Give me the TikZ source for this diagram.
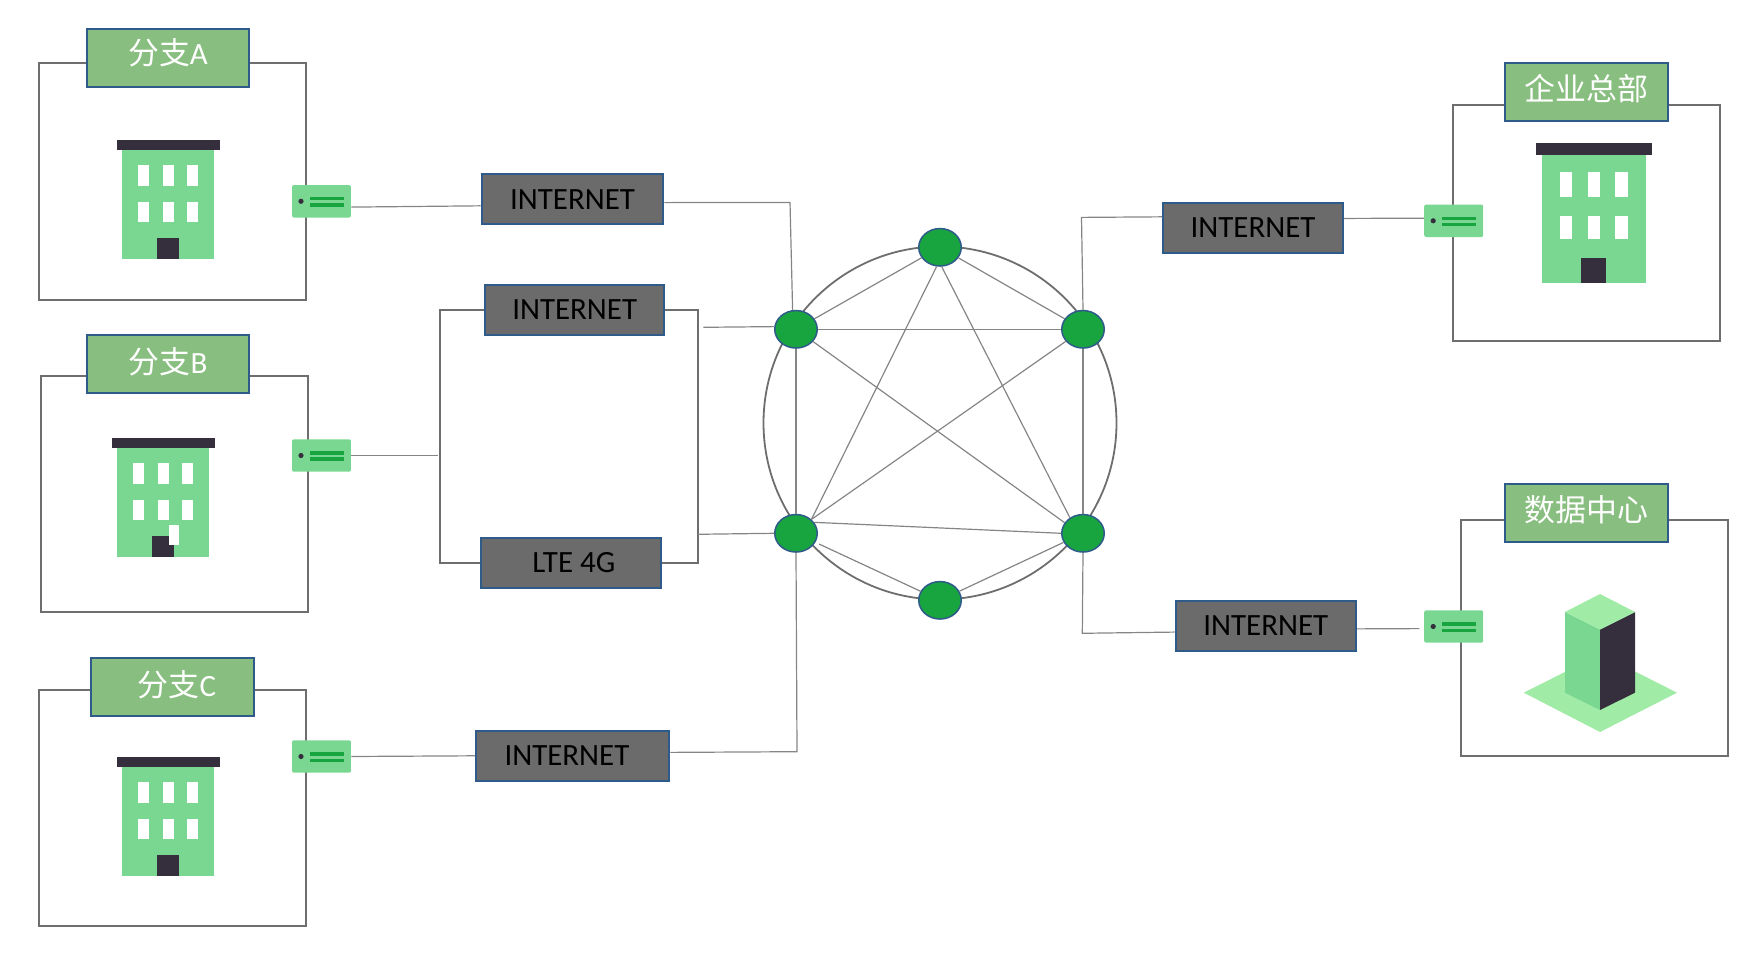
\documentclass[tikz,border=0pt]{standalone}
\usepackage{fontspec}
\setmainfont{Carlito}
\newfontfamily\cjkfont{Noto Sans CJK SC}
\usetikzlibrary{shapes.geometric}

\definecolor{tagfill}{HTML}{88BE7F}
\definecolor{edgeblue}{HTML}{2F5B8A}
\definecolor{boxgrey}{HTML}{6E6E6E}
\definecolor{netgrey}{HTML}{6B6B6B}
\definecolor{linkgrey}{HTML}{858585}
\definecolor{ringgreen}{HTML}{18A540}
\definecolor{blockgreen}{HTML}{79D791}
\definecolor{blockdark}{HTML}{352F3D}
\definecolor{padgreen}{HTML}{A0EBA5}

\tikzset{
	sitebox/.style={draw=boxgrey,line width=0.04cm},
	tagbox/.style={draw=edgeblue,fill=tagfill,line width=0.04cm,text=white,inner sep=0pt,
		minimum width=3.25cm,minimum height=1.17cm,text height=0.54cm,text depth=0.188cm,
		font=\fontsize{17.6pt}{20pt}\selectfont},
	netbox/.style={draw=edgeblue,fill=netgrey,line width=0.04cm,text=black,inner sep=0pt,
		minimum height=1cm,text height=0.4cm,text depth=0pt,
		font=\fontsize{17.6pt}{20pt}\selectfont},
	routerbox/.style={fill=blockgreen,rounded corners=0.04cm,inner sep=0pt,
		minimum width=1.18cm,minimum height=0.65cm},
	ringnode/.style={ellipse,draw=edgeblue,fill=ringgreen,line width=0.03cm,inner sep=0pt,
		minimum width=0.85cm,minimum height=0.75cm},
	linkline/.style={draw=linkgrey,line width=0.024cm},
	splitline/.style={draw=boxgrey,line width=0.036cm}
}

% one office block, roof corner at #1,#2
\newcommand{\officeblock}[4]{
	\begin{scope}[shift={(#1,#2)},xscale=#3,yscale=#4]
		\fill[blockgreen] (5,10) rectangle (97,118.7);
		\fill[blockdark] (0,0) rectangle (103,10);
		\foreach \wx in {21,46,70}{
			\fill[white] (\wx,25) rectangle (\wx+11,45.7);
			\fill[white] (\wx,61.7) rectangle (\wx+11,81.7);
		}
		\fill[blockdark] (40,98) rectangle (62,118.7);
	\end{scope}
}

\begin{document}
\begin{tikzpicture}[x=0.02cm,y=-0.02cm]
	\useasboundingbox (0,0) rectangle (1758,962);

	% sites
	\draw[sitebox] (39,62.7) rectangle (306,300);
	\draw[sitebox] (41,375.7) rectangle (308,611.7);
	\draw[sitebox] (38.8,690) rectangle (306,925.7);
	\draw[sitebox] (1452.8,105) rectangle (1720.4,341);
	\draw[sitebox] (1461,520) rectangle (1728,756.3);

	\node[tagbox,text height=0.5cm,text depth=0.228cm] (tagA) at (168,58) {{\cjkfont 分支}A};
	\node[tagbox,text height=0.56cm,text depth=0.168cm] (tagB) at (168,363.8) {{\cjkfont 分支}B};
	\node[tagbox,text height=0.56cm,text depth=0.168cm] (tagC) at (172.4,687) {\hspace*{0.18cm}{\cjkfont 分支}C};
	\node[tagbox] (tagHQ) at (1586.4,92.2) {\cjkfont 企业总部};
	\node[tagbox] (tagDC) at (1586.4,513) {\cjkfont 数据中心};

	\officeblock{117}{140}{1}{1}
	\officeblock{112}{438}{1}{1}
	\fill[white] (169,525) rectangle (179,544.7);
	\officeblock{117}{757}{1}{1}
	\officeblock{1536}{143}{1.13}{1.176}

	% data centre
	\fill[padgreen] (1523.8,692.7) -- (1600.6,654) -- (1677,692.7) -- (1600,732) -- cycle;
	\fill[blockgreen] (1565,612) -- (1600,629.5) -- (1600,710) -- (1565,692.7) -- cycle;
	\fill[blockdark] (1600,629.5) -- (1635,612) -- (1635,692.7) -- (1600,710) -- cycle;
	\fill[padgreen] (1565,612) -- (1600,594) -- (1635,612) -- (1600,629.5) -- cycle;

	% routers
	\foreach \rname/\rx/\ry in {routerA/321.5/201.3,routerB/321.5/455.5,routerC/321.5/756.5,routerHQ/1453.7/220.8,routerDC/1453.7/626.5}{
		\node[routerbox] (\rname) at (\rx,\ry) {};
		\fill[blockdark] (\rx-20.5,\ry) circle (2.6);
		\fill[ringgreen] (\rx-11.5,\ry-4.2) rectangle (\rx+22.5,\ry-0.8);
		\fill[ringgreen] (\rx-11.5,\ry+2) rectangle (\rx+22.5,\ry+5.4);
	}

	% carriers
	\node[netbox,minimum width=3.64cm] (netA) at (572.5,199.4) {INTERNET};
	\node[netbox,minimum width=3.59cm] (netB) at (574.7,309.8) {INTERNET};
	\node[netbox,minimum width=3.59cm] (netLTE) at (570.8,562.8) {\hspace*{0.12cm}LTE 4G};
	\node[netbox,minimum width=3.87cm] (netC) at (572.7,755.8) {INTERNET\hspace*{0.23cm}};
	\node[netbox,minimum width=3.6cm] (netHQ) at (1253,228) {INTERNET};
	\node[netbox,minimum width=3.61cm] (netDC) at (1265.8,625.7) {INTERNET};

	% ring
	\draw[boxgrey,line width=0.036cm] (940,423) circle (176.5);
	\node[ringnode] (ringT) at (940,247.3) {};
	\node[ringnode] (ringUL) at (796,329.3) {};
	\node[ringnode] (ringUR) at (1083,329.3) {};
	\node[ringnode] (ringLL) at (796,533.3) {};
	\node[ringnode] (ringLR) at (1083,533.3) {};
	\node[ringnode] (ringB) at (940,600.3) {};

	\draw[linkline] (ringT) -- (ringUL);
	\draw[linkline] (ringT) -- (ringUR);
	\draw[linkline] (ringUL) -- (ringUR);
	\draw[linkline] (ringUL) -- (ringLL);
	\draw[linkline] (ringUR) -- (ringLR);
	\draw[linkline] (ringUL) -- (ringLR.150);
	\draw[linkline] (ringUR) -- (ringLL.42);
	\draw[linkline] (ringT.-100) -- (ringLL.42);
	\draw[linkline] (ringT.-85) -- (ringLR.130);
	\draw[linkline] (ringLL.31) -- (ringLR.west);
	\draw[linkline,shorten <=0.08cm] (ringLL) -- (ringB);
	\draw[linkline] (ringB) -- (ringLR);

	% links
	\coordinate (turnA) at (790,202.5);
	\coordinate (turnC) at (797,751.7);
	\coordinate (turnHQ) at (1081.5,217.4);
	\coordinate (turnDC) at (1082.3,633.3);
	\coordinate (splitL) at (440,433);
	\coordinate (splitR) at (698,433);
	\coordinate (feedB) at (437.5,455.5);
	\coordinate (stubUL) at (703.4,327.3);
	\coordinate (stubLL) at (698,534.3);

	\draw[linkline] (routerA.-11) -- (netA.184);
	\draw[linkline] (netA.-2.3) -- (turnA) -- (ringUL.100);
	\draw[linkline] (routerB.east) -- (feedB);
	\draw[splitline] (netB.west) -| (splitL) |- (netLTE.west);
	\draw[splitline] (netB.east) -| (splitR) |- (netLTE.east);
	\draw[linkline] (stubUL) -- (ringUL.173);
	\draw[linkline] (stubLL) -- (ringLL.west);
	\draw[linkline] (routerC.east) -- (netC.west);
	\draw[linkline] (netC.2) -- (turnC) -- (ringLL.south);
	\draw[linkline] (ringUR.north) -- (turnHQ) -- (netHQ.173.4);
	\draw[linkline] (netHQ.6.6) -- (routerHQ.175.6);
	\draw[linkline] (ringLR.south) -- (turnDC) -- (netDC.184.4);
	\draw[linkline,shorten >=0.09cm] (netDC.-2.7) -- (routerDC.184.8);
\end{tikzpicture}
\end{document}
